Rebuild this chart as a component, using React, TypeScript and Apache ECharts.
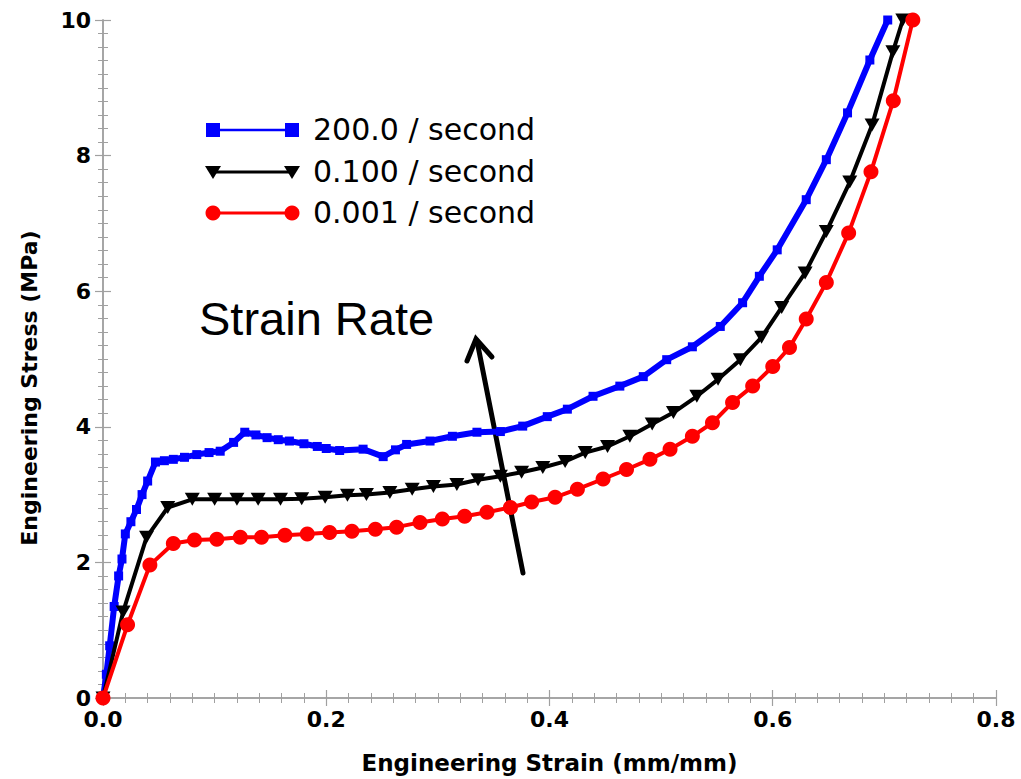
import React, { useEffect, useRef } from "react";
import * as echarts from "echarts";

// ---- Data (strain mm/mm, stress MPa) ----
const blueStrain = [0, 0.003, 0.006, 0.010, 0.014, 0.017, 0.020, 0.025, 0.030, 0.035, 0.040, 0.047, 0.055, 0.063, 0.073, 0.084, 0.095, 0.105, 0.117, 0.127, 0.137, 0.147, 0.157, 0.167, 0.180, 0.192, 0.200, 0.212, 0.233, 0.251, 0.262, 0.272, 0.293, 0.313, 0.335, 0.356, 0.376, 0.398, 0.416, 0.439, 0.463, 0.484, 0.505, 0.528, 0.553, 0.573, 0.588, 0.604, 0.630, 0.648, 0.667, 0.687, 0.703];
const blueStress = [0, 0.35, 0.77, 1.35, 1.80, 2.05, 2.42, 2.60, 2.78, 3.00, 3.20, 3.48, 3.50, 3.52, 3.55, 3.59, 3.62, 3.64, 3.77, 3.92, 3.88, 3.84, 3.81, 3.79, 3.75, 3.71, 3.68, 3.65, 3.67, 3.56, 3.66, 3.74, 3.79, 3.86, 3.92, 3.93, 4.01, 4.15, 4.26, 4.45, 4.60, 4.74, 4.99, 5.18, 5.48, 5.83, 6.22, 6.61, 7.35, 7.94, 8.63, 9.41, 10.0];

const blackStrain = [0, 0.018, 0.039, 0.058, 0.080, 0.100, 0.120, 0.139, 0.159, 0.178, 0.199, 0.219, 0.236, 0.257, 0.277, 0.296, 0.317, 0.336, 0.356, 0.375, 0.394, 0.414, 0.432, 0.452, 0.472, 0.492, 0.511, 0.532, 0.551, 0.571, 0.590, 0.608, 0.629, 0.648, 0.669, 0.689, 0.7076, 0.7165];
const blackStress = [0, 1.27, 2.37, 2.81, 2.93, 2.93, 2.93, 2.93, 2.93, 2.94, 2.96, 2.99, 3.00, 3.03, 3.08, 3.12, 3.15, 3.22, 3.27, 3.33, 3.40, 3.49, 3.62, 3.71, 3.86, 4.04, 4.21, 4.45, 4.70, 4.99, 5.32, 5.76, 6.27, 6.88, 7.61, 8.45, 9.53, 10.0];

const redStrain = [0, 0.022, 0.042, 0.063, 0.082, 0.102, 0.123, 0.142, 0.163, 0.183, 0.203, 0.223, 0.244, 0.263, 0.284, 0.304, 0.324, 0.344, 0.365, 0.384, 0.405, 0.425, 0.448, 0.469, 0.490, 0.508, 0.528, 0.546, 0.564, 0.582, 0.600, 0.615, 0.630, 0.648, 0.668, 0.688, 0.708, 0.7255];
const redStress = [0, 1.08, 1.96, 2.28, 2.33, 2.34, 2.37, 2.37, 2.40, 2.42, 2.44, 2.46, 2.49, 2.52, 2.59, 2.64, 2.68, 2.74, 2.81, 2.89, 2.96, 3.08, 3.23, 3.37, 3.52, 3.67, 3.86, 4.06, 4.36, 4.60, 4.89, 5.17, 5.59, 6.13, 6.86, 7.76, 8.81, 10.0];

const seriesNames = ["200.0 / second", "0.100 / second", "0.001 / second"];
const seriesColors = ["#0000ff", "#000000", "#ff0000"];
const xTickLabels = ["0.0", "0.2", "0.4", "0.6", "0.8"];
const yTickLabels = ["0", "2", "4", "6", "8", "10"];
const annotationText = "Strain Rate";
const xTitle = "Engineering Strain (mm/mm)";
const yTitle = "Engineering Stress (MPa)";

const zip = (xs: number[], ys: number[]) => xs.map((x, i) => [x, ys[i]]);

const AXIS_GRAY = "#a0a0a0";
const TICK_FONT = "DejaVu Sans";

export default function App() {
  const ref = useRef<HTMLDivElement>(null);

  useEffect(() => {
    if (!ref.current) return;
    const chart = echarts.init(ref.current, null, { renderer: "svg" });

    const axisCommon = {
      type: "value" as const,
      axisLine: { show: true, lineStyle: { color: AXIS_GRAY, width: 1.5 } },
      axisTick: { show: true, inside: true, length: 8, lineStyle: { color: AXIS_GRAY, width: 1.2 } },
      minorTick: { show: true, splitNumber: 10, length: 5, lineStyle: { color: AXIS_GRAY, width: 1 } },
      splitLine: { show: false },
      minorSplitLine: { show: false },
    };

    const legendRows = [130, 172, 213];
    const legendX1 = 213;
    const legendX2 = 292;
    const graphics: any[] = [];
    legendRows.forEach((y, i) => {
      const c = seriesColors[i];
      graphics.push({
        type: "line",
        shape: { x1: legendX1, y1: y, x2: legendX2, y2: y },
        style: { stroke: c, lineWidth: i === 0 ? 2.5 : 3 },
        silent: true,
      });
      [legendX1, legendX2].forEach((cx) => {
        if (i === 0) {
          graphics.push({ type: "rect", shape: { x: cx - 7, y: y - 7, width: 14, height: 14 }, style: { fill: c } });
        } else if (i === 1) {
          graphics.push({ type: "polygon", shape: { points: [[cx - 8, y - 6], [cx + 8, y - 6], [cx, y + 7]] }, style: { fill: c } });
        } else {
          graphics.push({ type: "circle", shape: { cx, cy: y, r: 7.5 }, style: { fill: c } });
        }
      });
      graphics.push({
        type: "text",
        x: 313,
        y: y - 1,
        style: {
          text: seriesNames[i],
          fill: "#000",
          fontFamily: "DejaVu Sans",
          fontSize: 30,
          verticalAlign: "middle",
          align: "left",
        },
      });
    });

    graphics.push({
      type: "text",
      x: 199,
      y: 318,
      style: {
        text: annotationText,
        fill: "#000",
        fontFamily: "Liberation Sans, Arial",
        fontSize: 47,
        verticalAlign: "middle",
        align: "left",
      },
    });
    graphics.push({
      type: "line",
      shape: { x1: 523, y1: 573, x2: 477, y2: 341 },
      style: { stroke: "#000", lineWidth: 5, lineCap: "round" },
    });
    graphics.push({
      type: "polyline",
      shape: { points: [[467, 361], [476, 339], [492, 357]] },
      style: { stroke: "#000", lineWidth: 5, lineCap: "round", lineJoin: "miter", fill: "none" },
    });
    // y-axis title
    graphics.push({
      type: "text",
      x: 29,
      y: 388,
      rotation: Math.PI / 2,
      style: {
        text: yTitle,
        fill: "#000",
        fontFamily: TICK_FONT,
        fontWeight: "bold",
        fontSize: 22,
        align: "center",
        verticalAlign: "middle",
      },
    });

    const option: any = {
      animation: false,
      backgroundColor: "#ffffff",
      grid: { left: 103, right: 25, top: 20, bottom: 80, containLabel: false },
      xAxis: [
        {
          ...axisCommon,
          position: "bottom",
          min: 0,
          max: 0.8,
          interval: 0.2,
          name: xTitle,
          nameLocation: "middle",
          nameGap: 53,
          nameTextStyle: { fontFamily: TICK_FONT, fontWeight: "bold", fontSize: 23, color: "#000" },
          axisLabel: {
            margin: 10,
            fontFamily: TICK_FONT,
            fontWeight: "bold",
            fontSize: 22,
            color: "#000",
            formatter: (v: number) => xTickLabels[Math.round(v / 0.2)] ?? v.toFixed(1),
          },
        },
        {
          ...axisCommon,
          position: "top",
          min: 0,
          max: 0.8,
          interval: 0.2,
          axisLabel: { show: false },
        },
      ],
      yAxis: [
        {
          ...axisCommon,
          position: "left",
          min: 0,
          max: 10,
          interval: 2,
          axisLabel: {
            margin: 12,
            fontFamily: TICK_FONT,
            fontWeight: "bold",
            fontSize: 22,
            color: "#000",
            formatter: (v: number) => yTickLabels[Math.round(v / 2)] ?? String(v),
          },
        },
        {
          ...axisCommon,
          position: "right",
          min: 0,
          max: 10,
          interval: 2,
          axisLabel: { show: false },
        },
      ],
      series: [
        {
          name: seriesNames[0],
          type: "line",
          data: zip(blueStrain, blueStress),
          symbol: "rect",
          symbolSize: 9,
          showAllSymbol: true,
          color: seriesColors[0],
          lineStyle: { width: 6, color: seriesColors[0] },
          itemStyle: { color: seriesColors[0] },
          z: 2,
        },
        {
          name: seriesNames[1],
          type: "line",
          data: zip(blackStrain, blackStress),
          symbol: "triangle",
          symbolRotate: 180,
          symbolSize: [15, 13],
          showAllSymbol: true,
          color: seriesColors[1],
          lineStyle: { width: 4, color: seriesColors[1] },
          itemStyle: { color: seriesColors[1] },
          z: 3,
        },
        {
          name: seriesNames[2],
          type: "line",
          data: zip(redStrain, redStress),
          symbol: "circle",
          symbolSize: 15,
          showAllSymbol: true,
          color: seriesColors[2],
          lineStyle: { width: 4, color: seriesColors[2] },
          itemStyle: { color: seriesColors[2] },
          z: 4,
        },
      ],
      graphic: graphics,
    };

    chart.setOption(option);
    return () => chart.dispose();
  }, []);

  return (
    <div
      ref={ref}
      style={{ position: "fixed", left: 0, top: 0, width: 1021, height: 779, background: "#fff" }}
    />
  );
}
